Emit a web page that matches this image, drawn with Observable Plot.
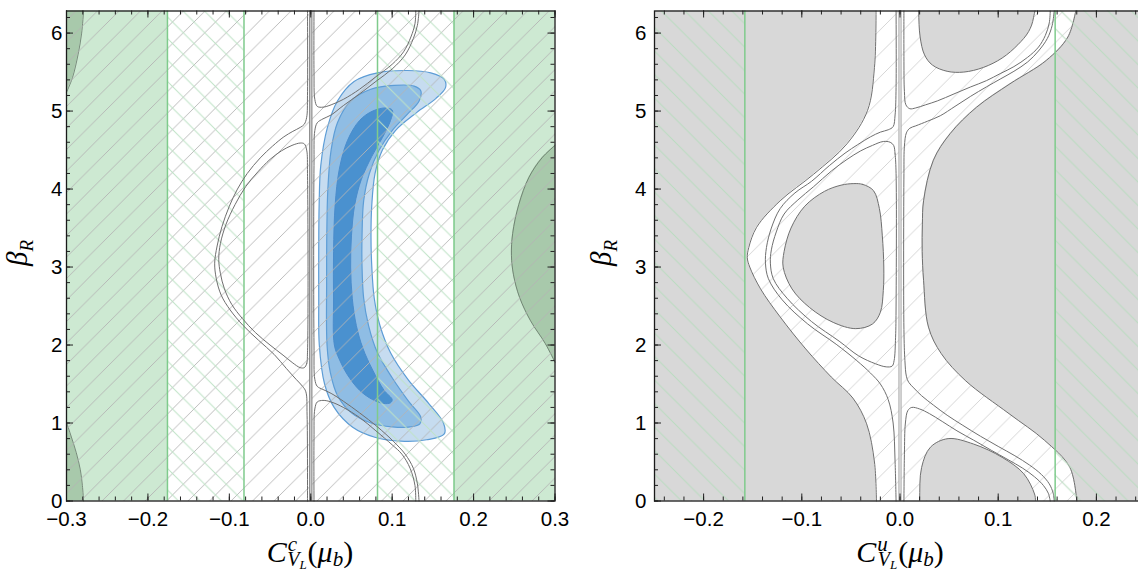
<!DOCTYPE html>
<html>
<head>
<meta charset="utf-8">
<script src="https://cdn.jsdelivr.net/npm/d3@7"></script>
<script src="https://cdn.jsdelivr.net/npm/@observablehq/plot@0.6"></script>
<style>
  html, body { margin: 0; padding: 0; background: #fff; overflow: hidden; }
  #fig { position: relative; width: 1138px; height: 573px; overflow: hidden; background: #fff; }
  #fig svg { position: absolute; top: 0; }
</style>
</head>
<body>
<div id="fig"></div>
<script>
const TAU = 2 * Math.PI;

// ---------- shared axis ticks ----------
const yTicks = [0, 1, 2, 3, 4, 5, 6];

// ---------- left panel: C_VL^c ----------
const cXTicks = [-0.3, -0.2, -0.1, 0, 0.1, 0.2, 0.3];
const cGreenLines = [-0.176, -0.082, 0.082, 0.176];
const cGreenBands = [[-0.3, -0.176], [0.176, 0.3]];
const cCrossBands = [[-0.176, -0.082], [0.082, 0.176]];

// darker green excluded regions, boundary x as a function of y
const cDarkTopLeft = [[-0.3, 5.24], [-0.2926, 5.43], [-0.2857, 5.73], [-0.2815, 5.99], [-0.279, 6.2832]];
const cDarkBottomLeft = [[-0.279, 0], [-0.2805, 0.2], [-0.283, 0.4], [-0.288, 0.62], [-0.294, 0.82], [-0.3, 1.01]];
const cDarkRight = [[0.3, 1.78], [0.288, 2.02], [0.27, 2.31], [0.2565, 2.61], [0.249, 2.9], [0.2465, 3.15],
  [0.248, 3.43], [0.2555, 3.8], [0.268, 4.15], [0.284, 4.4], [0.3, 4.56]];

// fit regions (3σ, 2σ, 1σ)
const cFit3 = [[0.0105, 2.0], [0.0098, 2.6], [0.0098, 3.2], [0.0103, 3.8], [0.0123, 4.3], [0.0205, 4.79],
  [0.0328, 5.13], [0.0532, 5.38], [0.082, 5.49], [0.1188, 5.52], [0.1474, 5.49], [0.1638, 5.41], [0.1655, 5.3],
  [0.1535, 5.16], [0.13, 4.98], [0.104, 4.75], [0.088, 4.5], [0.079, 4.2], [0.075, 3.8], [0.074, 3.4],
  [0.075, 3.0], [0.078, 2.6], [0.085, 2.25], [0.098, 1.9], [0.12, 1.55], [0.145, 1.25], [0.163, 1.0],
  [0.164, 0.86], [0.1424, 0.785], [0.1106, 0.767], [0.0787, 0.818], [0.0515, 0.946], [0.0287, 1.2], [0.017, 1.5]];
const cFit2 = [[0.02, 2.0], [0.0195, 2.8], [0.0197, 3.4], [0.021, 4.0], [0.025, 4.5], [0.0328, 4.85],
  [0.0491, 5.13], [0.0737, 5.28], [0.1024, 5.33], [0.127, 5.32], [0.1351, 5.26], [0.1331, 5.13], [0.1188, 4.96],
  [0.1, 4.75], [0.084, 4.5], [0.072, 4.2], [0.065, 3.85], [0.063, 3.4], [0.063, 3.0], [0.065, 2.6],
  [0.071, 2.25], [0.082, 1.9], [0.1, 1.58], [0.12, 1.28], [0.135, 1.08], [0.134, 0.99], [0.122, 0.95],
  [0.1, 0.95], [0.074, 1.0], [0.05, 1.13], [0.033, 1.35], [0.024, 1.65]];
const cFit1 = [[0.029, 2.0], [0.028, 2.6], [0.028, 3.2], [0.03, 3.8], [0.035, 4.25], [0.045, 4.62],
  [0.06, 4.88], [0.076, 5.0], [0.092, 5.04], [0.1003, 5.01], [0.098, 4.88], [0.088, 4.66], [0.075, 4.42],
  [0.062, 4.12], [0.054, 3.8], [0.05, 3.4], [0.049, 3.0], [0.051, 2.6], [0.056, 2.25], [0.064, 1.96],
  [0.076, 1.68], [0.09, 1.42], [0.1, 1.3], [0.098, 1.26], [0.09, 1.25], [0.076, 1.3], [0.06, 1.42],
  [0.045, 1.62], [0.035, 1.82]];

// contour lines near the resonance at C = 0
const cUpperRightA = [[0.004, 6.2832], [0.004, 5.5], [0.005, 5.15], [0.008, 5.06], [0.015, 5.05], [0.025, 5.08],
  [0.04, 5.15], [0.06, 5.28], [0.08, 5.44], [0.1, 5.6], [0.114, 5.76], [0.123, 5.95], [0.128, 6.12], [0.129, 6.2832]];
const cLowerRightA = [[0.129, 0], [0.128, 0.2], [0.122, 0.42], [0.112, 0.6], [0.1, 0.72], [0.08, 0.9],
  [0.06, 1.07], [0.04, 1.2], [0.025, 1.27], [0.015, 1.29], [0.008, 1.27], [0.005, 1.18], [0.004, 0.8], [0.004, 0]];
const cRightB = [[0.133, 0], [0.131, 0.22], [0.126, 0.42], [0.116, 0.6], [0.102, 0.76], [0.082, 0.95],
  [0.06, 1.13], [0.04, 1.28], [0.025, 1.38], [0.015, 1.43], [0.008, 1.47], [0.005, 1.56], [0.004, 2.0],
  [0.004, 4.3], [0.005, 4.75], [0.008, 4.85], [0.015, 4.9], [0.025, 4.95], [0.04, 5.07], [0.06, 5.22],
  [0.08, 5.38], [0.1, 5.54], [0.116, 5.72], [0.126, 5.93], [0.131, 6.1], [0.133, 6.2832]];
const cLeftOuter = [[-0.004, 6.2832], [-0.004, 5.2], [-0.005, 4.92], [-0.008, 4.83], [-0.013, 4.79],
  [-0.022, 4.74], [-0.033, 4.67], [-0.047, 4.55], [-0.062, 4.4], [-0.078, 4.2], [-0.09, 4.0], [-0.1, 3.78],
  [-0.109, 3.52], [-0.115, 3.27], [-0.118, 3.05], [-0.116, 2.85], [-0.11, 2.64], [-0.099, 2.45], [-0.083, 2.25],
  [-0.064, 2.06], [-0.045, 1.88], [-0.03, 1.7], [-0.018, 1.56], [-0.01, 1.47], [-0.006, 1.4], [-0.0045, 1.1], [-0.004, 0]];
const cLeftInner = [[-0.004, 1.9], [-0.005, 1.76], [-0.008, 1.71], [-0.013, 1.71], [-0.022, 1.77], [-0.034, 1.87],
  [-0.05, 2.0], [-0.068, 2.16], [-0.084, 2.34], [-0.097, 2.52], [-0.106, 2.72], [-0.111, 2.92], [-0.113, 3.1],
  [-0.111, 3.3], [-0.104, 3.55], [-0.093, 3.8], [-0.08, 4.03], [-0.065, 4.22], [-0.05, 4.38], [-0.036, 4.49],
  [-0.023, 4.56], [-0.013, 4.59], [-0.008, 4.58], [-0.005, 4.5], [-0.004, 4.2]];

// ---------- right panel: C_VL^u ----------
const uXTicks = [-0.2, -0.1, 0, 0.1, 0.2];
const uGreenLines = [-0.158, 0.158];
const uOuterBands = [[-0.25, -0.158], [0.158, 0.25]];

// excluded (gray) regions
const uGrayLeftEdge = [[-0.024, 0], [-0.026, 0.5], [-0.034, 0.99], [-0.048, 1.32], [-0.07, 1.59], [-0.096, 1.95],
  [-0.122, 2.36], [-0.142, 2.72], [-0.153, 3.0], [-0.1555, 3.12], [-0.154, 3.25], [-0.146, 3.51], [-0.122, 3.85],
  [-0.088, 4.19], [-0.054, 4.58], [-0.033, 5.01], [-0.026, 5.56], [-0.0244, 6.2832]];
const uGrayRightEdge = [[0.18, 0], [0.173, 0.43], [0.147, 0.78], [0.111, 1.12], [0.067, 1.54], [0.042, 1.89],
  [0.029, 2.23], [0.024, 2.83], [0.0226, 3.2], [0.0228, 3.55], [0.024, 3.85], [0.034, 4.37], [0.051, 4.71],
  [0.078, 5.05], [0.112, 5.35], [0.149, 5.65], [0.171, 5.95], [0.179, 6.2832]];
const uGrayMid = [[-0.047, 4.07], [-0.038, 4.06], [-0.027, 3.98], [-0.021, 3.75], [-0.018, 3.4], [-0.0165, 3.0],
  [-0.017, 2.7], [-0.02, 2.42], [-0.028, 2.27], [-0.045, 2.21], [-0.068, 2.29], [-0.092, 2.48], [-0.11, 2.72],
  [-0.119, 3.0], [-0.118, 3.2], [-0.111, 3.5], [-0.097, 3.78], [-0.077, 3.97], [-0.06, 4.05]];
const uGrayTop = [[0.019, 6.7], [0.019, 6.2832], [0.0205, 5.95], [0.025, 5.72], [0.033, 5.59], [0.048, 5.51],
  [0.065, 5.5], [0.085, 5.56], [0.104, 5.68], [0.12, 5.85], [0.131, 6.02], [0.136, 6.2], [0.137, 6.7]];
const uGrayBottom = [[0.138, -0.4], [0.138, 0], [0.137, 0.09], [0.126, 0.35], [0.104, 0.56], [0.075, 0.73],
  [0.049, 0.8], [0.031, 0.69], [0.022, 0.43], [0.02, 0], [0.02, -0.4]];

// contour lines
const uUpperRightA = [[0.004, 6.2832], [0.004, 5.7], [0.0045, 5.25], [0.006, 5.08], [0.01, 5.03], [0.016, 5.04],
  [0.026, 5.08], [0.038, 5.13], [0.055, 5.22], [0.072, 5.31], [0.088, 5.39], [0.102, 5.48], [0.116, 5.57],
  [0.13, 5.69], [0.141, 5.82], [0.148, 5.97], [0.152, 6.13], [0.153, 6.2832]];
const uLowerRightA = [[0.153, 0], [0.151, 0.1], [0.146, 0.2], [0.137, 0.31], [0.125, 0.42], [0.11, 0.53],
  [0.093, 0.65], [0.075, 0.78], [0.058, 0.9], [0.043, 1.02], [0.03, 1.12], [0.02, 1.18], [0.012, 1.2],
  [0.008, 1.16], [0.0055, 1.0], [0.0045, 0.6], [0.004, 0]];
const uRightB = [[0.157, 0], [0.156, 0.1], [0.152, 0.22], [0.144, 0.34], [0.132, 0.46], [0.117, 0.58],
  [0.1, 0.7], [0.082, 0.83], [0.064, 0.97], [0.048, 1.1], [0.034, 1.23], [0.022, 1.35], [0.014, 1.45],
  [0.009, 1.52], [0.0065, 1.6], [0.005, 1.8], [0.004, 2.2], [0.004, 4.2], [0.0045, 4.55], [0.0065, 4.72],
  [0.01, 4.78], [0.016, 4.81], [0.028, 4.87], [0.041, 4.94], [0.056, 5.06], [0.072, 5.19], [0.088, 5.31],
  [0.102, 5.41], [0.116, 5.51], [0.13, 5.63], [0.141, 5.77], [0.15, 5.93], [0.155, 6.1], [0.157, 6.2832]];
const uLeftOuter = [[-0.004, 6.2832], [-0.004, 5.3], [-0.005, 4.95], [-0.007, 4.8], [-0.012, 4.76], [-0.02, 4.73],
  [-0.03, 4.67], [-0.043, 4.57], [-0.056, 4.46], [-0.072, 4.3], [-0.09, 4.1], [-0.107, 3.95], [-0.122, 3.75],
  [-0.131, 3.5], [-0.136, 3.25], [-0.137, 3.05], [-0.134, 2.85], [-0.12, 2.58], [-0.094, 2.27], [-0.065, 2.01],
  [-0.044, 1.8], [-0.03, 1.64], [-0.02, 1.5], [-0.012, 1.3], [-0.007, 1.0], [-0.005, 0.5], [-0.004, 0]];
const uLeftInner = [[-0.004, 4.2], [-0.005, 4.45], [-0.0065, 4.56], [-0.01, 4.6], [-0.017, 4.61], [-0.028, 4.56],
  [-0.04, 4.49], [-0.054, 4.38], [-0.07, 4.23], [-0.088, 4.03], [-0.104, 3.86], [-0.118, 3.68], [-0.126, 3.45],
  [-0.131, 3.22], [-0.132, 3.05], [-0.129, 2.85], [-0.115, 2.6], [-0.09, 2.3], [-0.062, 2.05], [-0.042, 1.86],
  [-0.025, 1.76], [-0.014, 1.72], [-0.008, 1.73], [-0.006, 1.8], [-0.0045, 2.1], [-0.004, 2.5]];

// ---------- helpers ----------
const px = d => d[0], py = d => d[1];
const fmtX = d => (d < 0 ? "\u2212" : "") + Math.abs(d).toFixed(1);
const FRAME_H = 490;

function hatchPattern(id, size, dir, color, width) {
  const s = size, h = s / 2;
  const d = dir > 0
    ? `M0,${s} L${s},0 M${-h},${h} L${h},${-h} M${h},${s + h} L${s + h},${h}`
    : `M0,0 L${s},${s} M${-h},${h} L${h},${s + h} M${h},${-h} L${s + h},${h}`;
  return `<pattern id="${id}" patternUnits="userSpaceOnUse" width="${s}" height="${s}">` +
    `<path d="${d}" stroke="${color}" stroke-width="${width}" fill="none"/></pattern>`;
}

function line(data, opts) {
  return Plot.line(data, {x: px, y: py, curve: "catmull-rom", stroke: "#6f6f6f", strokeWidth: 1, ...opts});
}

function panel(o) {
  const W = o.width - o.marginLeft - o.marginRight;
  const svg = Plot.plot({
    width: o.width,
    height: 573,
    marginTop: 10.5,
    marginBottom: 72.5,
    marginLeft: o.marginLeft,
    marginRight: o.marginRight,
    x: {domain: o.xDomain},
    y: {domain: [0, TAU]},
    style: {fontFamily: "'Liberation Sans', Arial, sans-serif", fontSize: "20.5px", color: "#000", background: "transparent", overflow: "visible"},
    marks: [
      ...o.marks,
      Plot.tickX(o.xMinor, {x: d => d, insetTop: FRAME_H - 4, stroke: "#222"}),
      Plot.tickX(o.xMinor, {x: d => d, insetBottom: FRAME_H - 4, stroke: "#222"}),
      Plot.tickX(o.xTicks, {x: d => d, insetTop: FRAME_H - 7, stroke: "#222"}),
      Plot.tickX(o.xTicks, {x: d => d, insetBottom: FRAME_H - 7, stroke: "#222"}),
      Plot.tickY(o.yMinor, {y: d => d, insetRight: W - 4, stroke: "#222"}),
      Plot.tickY(o.yMinor, {y: d => d, insetLeft: W - 4, stroke: "#222"}),
      Plot.tickY(yTicks, {y: d => d, insetRight: W - 7, stroke: "#222"}),
      Plot.tickY(yTicks, {y: d => d, insetLeft: W - 7, stroke: "#222"}),
      Plot.axisX(o.xTicks, {tickSize: 0, tickPadding: 10, tickFormat: fmtX, label: null}),
      Plot.axisY(yTicks, {tickSize: 0, tickPadding: o.yPad, tickFormat: d => String(d), label: null}),
      Plot.frame({stroke: "#1a1a1a", strokeWidth: 1.3})
    ]
  });
  const defs = document.createElementNS("http://www.w3.org/2000/svg", "defs");
  defs.innerHTML = o.patterns.join("");
  svg.insertBefore(defs, svg.firstChild);

  // axis titles with sub/superscripts
  const ns = "http://www.w3.org/2000/svg";
  const xl = document.createElementNS(ns, "text");
  xl.setAttribute("x", o.xLabelX);
  xl.setAttribute("y", 562);
  xl.setAttribute("text-anchor", "middle");
  xl.setAttribute("font-family", "'Liberation Serif', 'DejaVu Serif', serif");
  xl.setAttribute("font-size", "30");
  xl.setAttribute("font-style", "italic");
  xl.innerHTML = `<tspan>C</tspan><tspan font-size="21" dy="-11.5" dx="1">${o.sup}</tspan>` +
    `<tspan font-size="20" dx="-10" dy="15">V</tspan><tspan font-size="13" dy="3">L</tspan>` +
    `<tspan font-style="normal" dy="-6.5" dx="1">(</tspan><tspan>μ</tspan><tspan font-size="21" dy="3.5">b</tspan>` +
    `<tspan font-style="normal" dy="-3.5">)</tspan>`;
  svg.appendChild(xl);
  const yl = document.createElementNS(ns, "text");
  yl.setAttribute("transform", `translate(${o.yLabelX},253) rotate(-90)`);
  yl.setAttribute("text-anchor", "middle");
  yl.setAttribute("font-family", "'Liberation Serif', 'DejaVu Serif', serif");
  yl.setAttribute("font-size", "29");
  yl.setAttribute("font-style", "italic");
  yl.innerHTML = `β<tspan font-size="19" dy="6">R</tspan>`;
  svg.appendChild(yl);
  svg.style.left = o.left + "px";
  return svg;
}

const yMinor = d3.range(0, 6.3, 0.2);

// ---------- left panel ----------
const left = panel({
  left: 0, width: 570, marginLeft: 66, marginRight: 15.5,
  xDomain: [-0.3, 0.3], xTicks: cXTicks, xMinor: d3.range(-0.3, 0.3001, 0.02), yMinor,
  yPad: 4, xLabelX: 310, yLabelX: 27, sup: "c",
  patterns: [
    hatchPattern("cHatchA", 21.5, 1, "#b4b4b4", 0.9),
    hatchPattern("cHatchB", 21.5, -1, "#bfe3c6", 1)
  ],
  marks: [
    Plot.rect(cGreenBands, {x1: px, x2: py, y1: 0, y2: TAU, fill: "#cde9d2"}),
    Plot.areaX(cDarkTopLeft, {y: py, x1: -0.3, x2: px, curve: "catmull-rom", fill: "#a8c9ab"}),
    Plot.areaX(cDarkBottomLeft, {y: py, x1: -0.3, x2: px, curve: "catmull-rom", fill: "#a8c9ab"}),
    Plot.areaX(cDarkRight, {y: py, x1: px, x2: 0.3, curve: "catmull-rom", fill: "#a8c9ab"}),
    line(cDarkTopLeft, {stroke: "#627264", strokeWidth: 0.8}),
    line(cDarkBottomLeft, {stroke: "#627264", strokeWidth: 0.8}),
    line(cDarkRight, {stroke: "#627264", strokeWidth: 0.8}),
    Plot.line(cFit3, {x: px, y: py, curve: "catmull-rom-closed", fill: "#c6dcf0", stroke: "#5d9dd6", strokeWidth: 1.2}),
    Plot.line(cFit2, {x: px, y: py, curve: "catmull-rom-closed", fill: "#8fbde4", stroke: "#5d9dd6", strokeWidth: 1.2}),
    Plot.line(cFit1, {x: px, y: py, curve: "catmull-rom-closed", fill: "#4a91cf", stroke: "#4a8ccc", strokeWidth: 1}),
    Plot.frame({fill: "url(#cHatchA)", stroke: "none"}),
    Plot.rect(cCrossBands, {x1: px, x2: py, y1: 0, y2: TAU, fill: "url(#cHatchB)"}),
    Plot.ruleX(cGreenLines, {stroke: "#7fcb8c", strokeWidth: 1.5}),
    Plot.ruleX([0], {stroke: "#8a8a8a", strokeWidth: 3.4}),
    Plot.ruleX([0], {stroke: "#d6d6d6", strokeWidth: 1.2}),
    line(cUpperRightA), line(cLowerRightA), line(cRightB), line(cLeftOuter),
    Plot.line(cLeftInner, {x: px, y: py, curve: "catmull-rom-closed", stroke: "#6f6f6f", strokeWidth: 1})
  ]
});

// ---------- right panel ----------
const right = panel({
  left: 580, width: 580, marginLeft: 74, marginRight: 15,
  xDomain: [-0.25, 0.25], xTicks: uXTicks, xMinor: d3.range(-0.24, 0.2401, 0.02), yMinor,
  yPad: 8, xLabelX: 320, yLabelX: 31, sup: "u",
  patterns: [
    hatchPattern("uHatchA", 23.5, 1, "#d0d0d0", 0.9),
    hatchPattern("uHatchB", 23.5, -1, "#b9dcc0", 1)
  ],
  marks: [
    Plot.frame({fill: "url(#uHatchA)", stroke: "none"}),
    Plot.areaX(uGrayLeftEdge, {y: py, x1: -0.25, x2: px, curve: "catmull-rom", fill: "#d8d8d8"}),
    Plot.areaX(uGrayRightEdge, {y: py, x1: px, x2: 0.25, curve: "catmull-rom", fill: "#d8d8d8"}),
    line(uGrayLeftEdge), line(uGrayRightEdge),
    Plot.line(uGrayMid, {x: px, y: py, curve: "catmull-rom-closed", fill: "#d8d8d8", stroke: "#6f6f6f", strokeWidth: 1}),
    Plot.line(uGrayTop, {x: px, y: py, curve: "catmull-rom-closed", fill: "#d8d8d8", stroke: "#6f6f6f", strokeWidth: 1, clip: true}),
    Plot.line(uGrayBottom, {x: px, y: py, curve: "catmull-rom-closed", fill: "#d8d8d8", stroke: "#6f6f6f", strokeWidth: 1, clip: true}),
    Plot.rect(uOuterBands, {x1: px, x2: py, y1: 0, y2: TAU, fill: "url(#uHatchB)"}),
    Plot.ruleX(uGreenLines, {stroke: "#7fcb8c", strokeWidth: 1.5}),
    Plot.ruleX([0], {stroke: "#a8a8a8", strokeWidth: 3.2}),
    Plot.ruleX([0], {stroke: "#ececec", strokeWidth: 1.2}),
    line(uUpperRightA), line(uLowerRightA), line(uRightB), line(uLeftOuter),
    Plot.line(uLeftInner, {x: px, y: py, curve: "catmull-rom-closed", stroke: "#6f6f6f", strokeWidth: 1})
  ]
});

const fig = document.getElementById("fig");
fig.appendChild(left);
fig.appendChild(right);
</script>
</body>
</html>
